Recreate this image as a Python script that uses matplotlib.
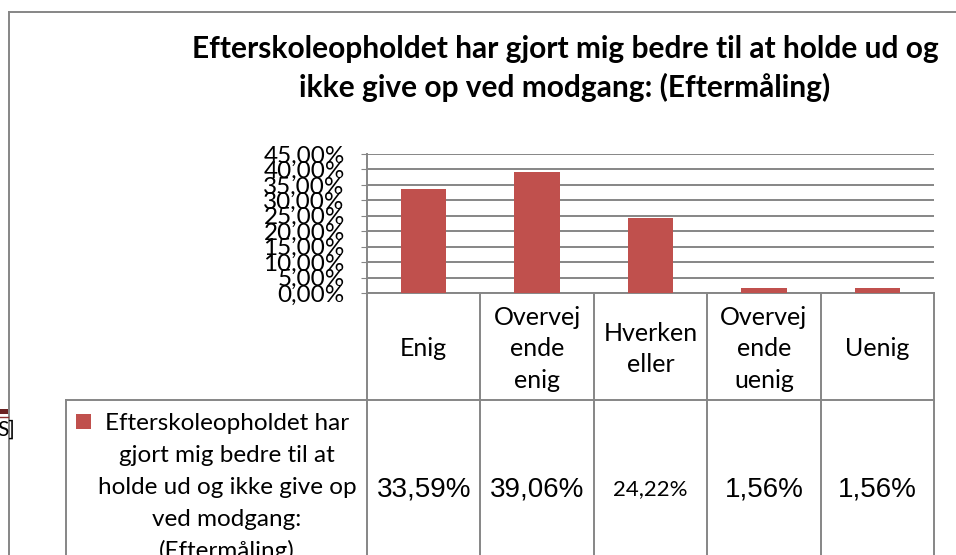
import numpy as np
import matplotlib.pyplot as plt
from matplotlib.patches import Rectangle

# data
categories = ["Enig", "Overvej\nende\nenig", "Hverken\neller", "Overvej\nende\nuenig", "Uenig"]
values = [33.59, 39.06, 24.22, 1.56, 1.56]
value_labels = ["33,59%", "39,06%", "24,22%", "1,56%", "1,56%"]
series_lines = ["Efterskoleopholdet har", "gjort mig bedre til at",
                "holde ud og ikke give op", "ved modgang:", "(Eftermåling)"]
title_lines = ["Efterskoleopholdet har gjort mig bedre til at holde ud og",
               "ikke give op ved modgang: (Eftermåling)"]
y_ticks = np.arange(0, 50, 5)

W, H = 956, 555
bar_color = "#C0504D"
line_color = "#868686"
calibri = ["Lato", "DejaVu Sans"]
arial = ["Liberation Sans", "DejaVu Sans"]

fig = plt.figure(figsize=(W / 100, H / 100), dpi=100)

# pixel canvas for frame, table and texts
bg = fig.add_axes([0, 0, 1, 1])
bg.set_xlim(0, W)
bg.set_ylim(H, 0)
bg.axis("off")

# plot area in pixels
px0, px1, py0, py1 = 367, 934, 154, 293
ax = fig.add_axes([px0 / W, (H - py1) / H, (px1 - px0) / W, (py1 - py0) / H])
x = np.arange(len(values))
ax.bar(x, values, width=0.4, color=bar_color, zorder=3)
ax.set_xlim(-0.5, len(values) - 0.5)
ax.set_ylim(0, 45)
ax.set_yticks(y_ticks)
ax.set_yticklabels([f"{v:.2f}%".replace(".", ",") for v in y_ticks],
                   fontsize=17.5, family=calibri)
ax.tick_params(axis="y", length=4, color=line_color, pad=12)
ax.set_xticks([])
ax.grid(axis="y", color=line_color, lw=1.4, zorder=0)
for s in ["top", "right", "bottom"]:
    ax.spines[s].set_visible(False)
ax.spines["left"].set_color(line_color)
ax.spines["left"].set_linewidth(1.4)
ax.patch.set_alpha(0)

# outer chart border
bg.plot([9, W + 5], [12, 12], color=line_color, lw=1.4)
bg.plot([9, 9], [12, H + 5], color=line_color, lw=1.4)

# fragment of the neighbouring chart at the left edge
bg.add_patch(Rectangle((0, 409), 8, 5, color="#6B2222", lw=0))
bg.plot([0, 8], [417, 417], color="#8B3030", lw=1)
bg.text(-3, 430, "S]", fontsize=15, family=calibri, ha="left", va="center")

# title
tsize = 21.5
bg.text(565, 58, title_lines[0], fontsize=tsize, fontweight="bold", family=calibri,
        ha="center", va="baseline")
bg.text(565, 97, title_lines[1], fontsize=tsize, fontweight="bold", family=calibri,
        ha="center", va="baseline")

# data table
col_w = (px1 - px0) / len(values)
edges = [px0 + i * col_w for i in range(len(values) + 1)]
row1 = 400
lk = dict(color=line_color, lw=1.4)
bg.plot([px0, px1], [py1, py1], **lk)
bg.plot([66, px1], [row1, row1], **lk)
bg.plot([66, 66], [row1, H + 5], **lk)
for e in edges:
    bg.plot([e, e], [py1, H + 5], **lk)

for i, (cat, lab) in enumerate(zip(categories, value_labels)):
    cx = (edges[i] + edges[i + 1]) / 2
    bg.text(cx, 349, cat, fontsize=18, family=calibri, ha="center", va="center",
            linespacing=1.45)
    if lab == "24,22%":
        bg.text(cx, 489, lab, fontsize=16, family=calibri, ha="center", va="center")
    else:
        bg.text(cx, 489, lab, fontsize=20, family=arial, ha="center", va="center")

# legend cell
bg.add_patch(Rectangle((76, 414), 15, 15, color=bar_color, lw=0))
for j, line in enumerate(series_lines):
    bg.text(227, 423 + 32 * j, line, fontsize=17.5, family=calibri, ha="center", va="center")

fig.savefig("out.png", dpi=100)
